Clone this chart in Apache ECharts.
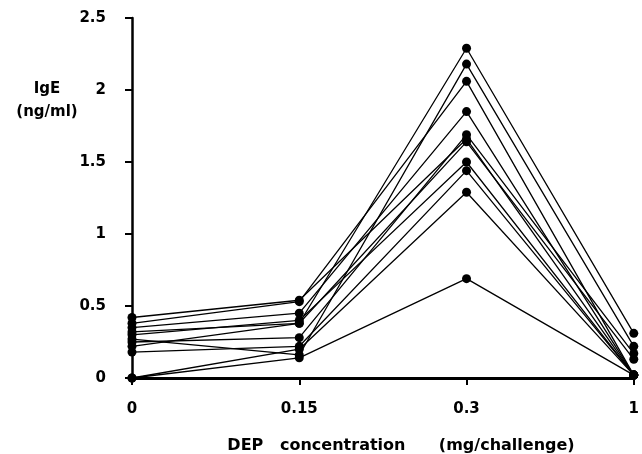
<!DOCTYPE html>
<html>
<head>
<meta charset="utf-8">
<script src="https://cdn.jsdelivr.net/npm/echarts@6/dist/echarts.min.js"></script>
<style>html,body{margin:0;padding:0;background:#fff}#c{width:642px;height:454px}</style>
</head>
<body>
<div id="c"></div>
<script>
const categories = ['0', '0.15', '0.3', '1'];
const yTicks = [0, 0.5, 1, 1.5, 2, 2.5];
const s1 = [0.42, 0.54, 1.66, 0.02];
const s2 = [0.38, 0.53, 2.06, 0.02];
const s3 = [0.35, 0.45, 1.85, 0.02];
const s4 = [0.32, 0.38, 2.29, 0.31];
const s5 = [0.30, 0.40, 1.50, 0.02];
const s6 = [0.27, 0.16, 2.18, 0.22];
const s7 = [0.25, 0.28, 1.69, 0.17];
const s8 = [0.22, 0.38, 1.64, 0.13];
const s9 = [0.18, 0.22, 1.44, 0.02];
const s10 = [0.00, 0.20, 1.29, 0.02];
const s11 = [0.00, 0.14, 0.69, 0.02];
const allSeries = [s1, s2, s3, s4, s5, s6, s7, s8, s9, s10, s11];

const font = '"DejaVu Sans", "Liberation Sans", sans-serif';
const chart = echarts.init(document.getElementById('c'));
chart.setOption({
  animation: false,
  grid: { left: 132, right: 5, top: 18, bottom: 76 },
  xAxis: {
    type: 'category',
    data: categories,
    boundaryGap: false,
    axisLine: { lineStyle: { color: '#000', width: 3 } },
    axisTick: { show: true, length: 7, lineStyle: { color: '#000', width: 2 }, alignWithLabel: true },
    axisLabel: { color: '#000', fontFamily: font, fontWeight: 'bold', fontSize: 15, margin: 24 }
  },
  yAxis: {
    type: 'value',
    min: yTicks[0],
    max: yTicks[yTicks.length - 1],
    interval: 0.5,
    splitLine: { show: false },
    axisLine: { show: true, lineStyle: { color: '#000', width: 2.5 } },
    axisTick: { show: true, length: 7, lineStyle: { color: '#000', width: 2 } },
    axisLabel: { color: '#000', fontFamily: font, fontWeight: 'bold', fontSize: 15, margin: 26 }
  },
  graphic: [
    { type: 'text', x: 47, y: 82, style: { text: 'IgE', fill: '#000', font: 'bold 15px ' + font, textAlign: 'center' } },
    { type: 'text', x: 47, y: 105, style: { text: '(ng/ml)', fill: '#000', font: 'bold 15px ' + font, textAlign: 'center' } },
    { type: 'text', x: 401, y: 438, style: { text: 'DEP   concentration      (mg/challenge)', fill: '#000', font: 'bold 16px ' + font, textAlign: 'center' } }
  ],
  series: allSeries.map(function (d) {
    return {
      type: 'line',
      data: d,
      symbol: 'circle',
      symbolSize: 9,
      itemStyle: { color: '#000' },
      lineStyle: { color: '#000', width: 1.3 }
    };
  })
});
</script>
</body>
</html>
